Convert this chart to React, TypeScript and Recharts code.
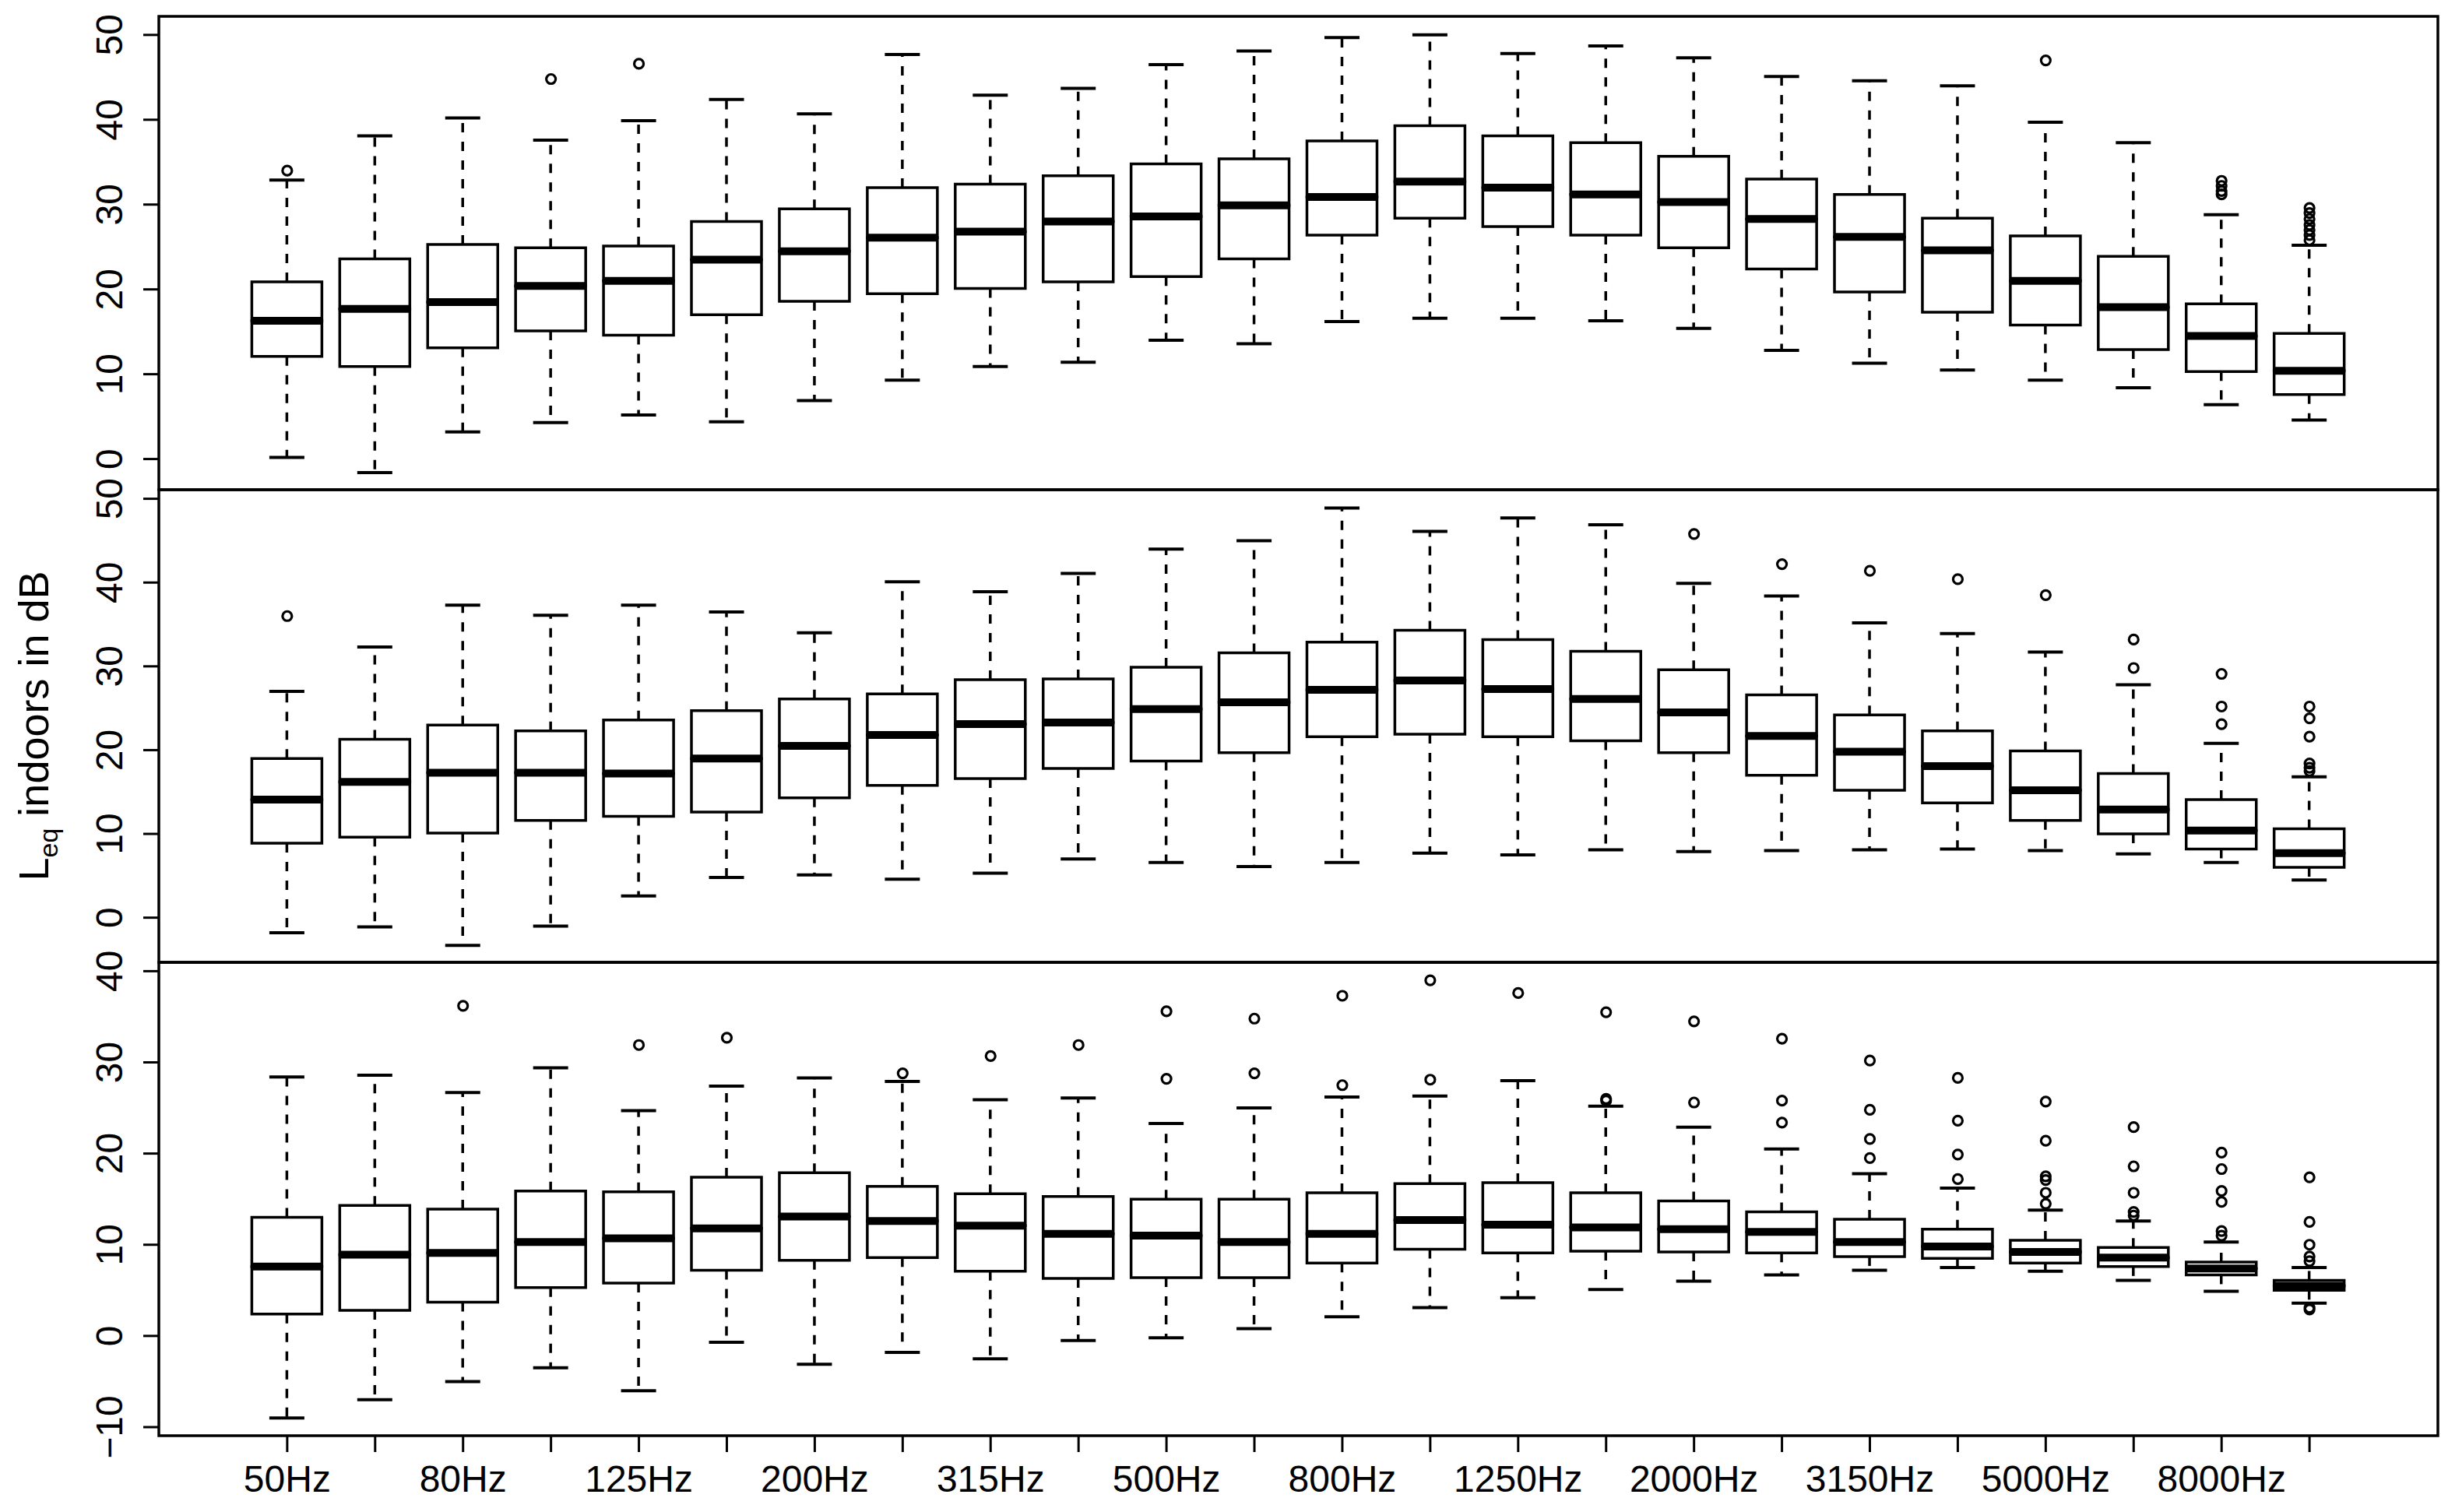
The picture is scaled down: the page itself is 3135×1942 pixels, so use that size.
import { ComposedChart, Bar, Scatter, XAxis, YAxis, ReferenceArea } from 'recharts'

// third-octave bands, one box per band
const bands = [
  '50Hz', '63Hz', '80Hz', '100Hz', '125Hz', '160Hz', '200Hz', '250Hz', '315Hz', '400Hz', '500Hz', '630Hz',
  '800Hz', '1000Hz', '1250Hz', '1600Hz', '2000Hz', '2500Hz', '3150Hz', '4000Hz', '5000Hz', '6300Hz', '8000Hz', '10000Hz',
]

// top panel
const topLow = [0.2, -1.6, 3.2, 4.3, 5.2, 4.4, 6.9, 9.3, 10.9, 11.4, 14.0, 13.6, 16.2, 16.6, 16.6, 16.3, 15.4, 12.8, 11.3, 10.5, 9.3, 8.4, 6.4, 4.6]
const topQ1 = [12.1, 10.9, 13.1, 15.1, 14.6, 17.0, 18.6, 19.5, 20.1, 20.9, 21.5, 23.6, 26.4, 28.4, 27.4, 26.4, 24.9, 22.4, 19.7, 17.3, 15.8, 12.9, 10.3, 7.6]
const topMed = [16.3, 17.7, 18.5, 20.4, 21.0, 23.5, 24.5, 26.1, 26.8, 28.0, 28.6, 29.9, 30.9, 32.7, 32.0, 31.2, 30.3, 28.3, 26.2, 24.6, 21.0, 17.9, 14.5, 10.4]
const topQ3 = [20.9, 23.6, 25.3, 24.9, 25.1, 28.0, 29.5, 32.0, 32.4, 33.4, 34.8, 35.4, 37.5, 39.3, 38.1, 37.3, 35.7, 33.0, 31.2, 28.4, 26.3, 23.9, 18.3, 14.8]
const topHigh = [32.9, 38.1, 40.2, 37.6, 39.9, 42.4, 40.7, 47.7, 42.9, 43.7, 46.5, 48.1, 49.7, 50.0, 47.8, 48.7, 47.3, 45.1, 44.6, 44.0, 39.7, 37.3, 28.8, 25.2]
const topOut = [
  [1, 34.0], [4, 44.8], [5, 46.6], [21, 47.0], [23, 32.8], [23, 32.2], [23, 31.6], [23, 31.2],
  [24, 29.6], [24, 29.0], [24, 28.3], [24, 27.6], [24, 27.0], [24, 26.4], [24, 25.8],
]

// middle panel
const midLow = [-1.8, -1.1, -3.3, -1.0, 2.6, 4.8, 5.1, 4.6, 5.3, 7.0, 6.6, 6.1, 6.6, 7.7, 7.5, 8.1, 7.9, 8.0, 8.1, 8.2, 8.0, 7.6, 6.6, 4.5]
const midQ1 = [8.9, 9.6, 10.1, 11.6, 12.1, 12.6, 14.3, 15.8, 16.6, 17.8, 18.7, 19.7, 21.6, 21.9, 21.6, 21.1, 19.7, 17.0, 15.2, 13.7, 11.6, 10.0, 8.2, 6.0]
const midMed = [14.1, 16.2, 17.3, 17.3, 17.2, 19.0, 20.5, 21.8, 23.1, 23.3, 24.9, 25.7, 27.2, 28.3, 27.3, 26.1, 24.5, 21.7, 19.8, 18.1, 15.2, 12.9, 10.4, 7.7]
const midQ3 = [19.0, 21.3, 23.0, 22.3, 23.6, 24.7, 26.1, 26.7, 28.4, 28.5, 29.9, 31.6, 32.9, 34.3, 33.2, 31.8, 29.6, 26.6, 24.2, 22.3, 19.9, 17.2, 14.1, 10.6]
const midHigh = [27.0, 32.3, 37.3, 36.1, 37.3, 36.5, 34.0, 40.1, 38.9, 41.1, 44.0, 45.0, 48.9, 46.1, 47.7, 46.9, 39.9, 38.4, 35.2, 33.9, 31.7, 27.8, 20.8, 16.8]
const midOut = [
  [1, 36.0], [17, 45.8], [18, 42.2], [19, 41.4], [20, 40.4], [21, 38.5], [22, 33.2], [22, 29.8],
  [23, 29.1], [23, 25.2], [23, 23.1], [24, 25.2], [24, 23.8], [24, 21.6], [24, 18.4], [24, 17.9], [24, 17.5],
]

// bottom panel
const botLow = [-9.0, -7.0, -5.0, -3.5, -6.0, -0.7, -3.1, -1.8, -2.5, -0.5, -0.2, 0.8, 2.1, 3.1, 4.2, 5.1, 6.0, 6.7, 7.2, 7.5, 7.1, 6.1, 4.9, 3.6]
const botQ1 = [2.4, 2.8, 3.7, 5.3, 5.8, 7.2, 8.3, 8.6, 7.1, 6.3, 6.4, 6.4, 8.0, 9.5, 9.1, 9.3, 9.2, 9.1, 8.7, 8.5, 8.0, 7.6, 6.7, 5.0]
const botMed = [7.6, 8.9, 9.1, 10.3, 10.7, 11.8, 13.1, 12.6, 12.1, 11.2, 11.0, 10.3, 11.2, 12.7, 12.2, 11.9, 11.7, 11.4, 10.3, 9.8, 9.2, 8.6, 7.4, 5.5]
const botQ3 = [13.0, 14.3, 13.9, 15.9, 15.8, 17.4, 17.9, 16.4, 15.6, 15.3, 15.0, 15.0, 15.7, 16.7, 16.8, 15.7, 14.8, 13.6, 12.8, 11.7, 10.5, 9.7, 8.1, 6.1]
const botHigh = [28.4, 28.6, 26.7, 29.4, 24.7, 27.4, 28.3, 27.9, 25.9, 26.1, 23.3, 25.0, 26.2, 26.3, 28.0, 25.2, 22.9, 20.5, 17.8, 16.2, 13.8, 12.6, 10.3, 7.5]
const botOut = [
  [3, 36.2], [5, 31.9], [6, 32.7], [8, 28.8], [9, 30.7], [10, 31.9], [11, 35.6], [11, 28.2], [12, 34.8], [12, 28.8],
  [13, 37.3], [13, 27.5], [14, 39.0], [14, 28.1], [15, 37.6], [16, 35.5], [16, 26.0], [16, 25.8], [17, 34.5], [17, 25.6],
  [18, 32.6], [18, 25.8], [18, 23.4], [19, 30.2], [19, 24.8], [19, 21.6], [19, 19.5], [20, 28.3], [20, 23.6], [20, 19.9],
  [20, 17.2], [21, 25.7], [21, 21.4], [21, 17.5], [21, 17.1], [21, 15.7], [21, 14.5], [22, 22.9], [22, 18.6], [22, 15.7],
  [22, 13.6], [22, 13.2], [23, 20.1], [23, 18.3], [23, 15.9], [23, 14.7], [23, 11.5], [23, 11.0], [24, 17.4], [24, 12.5],
  [24, 10.0], [24, 8.7], [24, 8.2], [24, 3.1], [24, 2.9],
]

const W = 3135
const H = 1942
const FONT = '"Liberation Sans", Arial, Helvetica, sans-serif'
const INK = '#000'
const LW = 3.5
const X_DOMAIN: [number, number] = [-0.46, 25.46]
const positions = bands.map((_, i) => i + 1)

const buildRows = (low: number[], q1: number[], med: number[], q3: number[], high: number[]) =>
  bands.map((name, i) => ({
    pos: i + 1,
    name,
    base: low[i],
    lw: q1[i] - low[i],
    lb: med[i] - q1[i],
    ub: q3[i] - med[i],
    uw: high[i] - q3[i],
  }))

const buildOutliers = (list: number[][]) => list.map(([pos, v]) => ({ pos, v }))

const fmtY = (v: number) => (v < 0 ? `\u2212${-v}` : `${v}`)

const Empty = () => <g />

const LowerWhisker = ({ x, y, width, height }: any) => {
  const cx = x + width / 2
  const cap = width / 4
  return (
    <g>
      <line x1={cx} x2={cx} y1={y} y2={y + height} stroke={INK} strokeWidth={LW} strokeDasharray="12 12" />
      <line x1={cx - cap} x2={cx + cap} y1={y + height} y2={y + height} stroke={INK} strokeWidth={4} />
    </g>
  )
}

const UpperWhisker = ({ x, y, width, height }: any) => {
  const cx = x + width / 2
  const cap = width / 4
  return (
    <g>
      <line x1={cx} x2={cx} y1={y + height} y2={y} stroke={INK} strokeWidth={LW} strokeDasharray="12 12" />
      <line x1={cx - cap} x2={cx + cap} y1={y} y2={y} stroke={INK} strokeWidth={4} />
    </g>
  )
}

const LowerBox = ({ x, y, width, height }: any) => (
  <path
    d={`M${x},${y} L${x},${y + height} L${x + width},${y + height} L${x + width},${y}`}
    fill="none"
    stroke={INK}
    strokeWidth={LW}
    strokeLinecap="square"
  />
)

const UpperBox = ({ x, y, width, height }: any) => (
  <g>
    <path
      d={`M${x},${y + height} L${x},${y} L${x + width},${y} L${x + width},${y + height}`}
      fill="none"
      stroke={INK}
      strokeWidth={LW}
      strokeLinecap="square"
    />
    <line x1={x} x2={x + width} y1={y + height} y2={y + height} stroke={INK} strokeWidth={10} />
  </g>
)

const Ring = ({ cx, cy }: any) => <circle cx={cx} cy={cy} r={6} fill="none" stroke={INK} strokeWidth={3.2} />

const YTick = ({ x, y, payload }: any) => (
  <text
    x={x - 27}
    y={y}
    transform={`rotate(-90, ${x - 27}, ${y})`}
    textAnchor="middle"
    fontSize={48}
    fontFamily={FONT}
    fill={INK}
  >
    {fmtY(payload.value)}
  </text>
)

const XTick = ({ x, y, payload }: any) =>
  payload.value % 2 === 1 ? (
    <text x={x} y={y + 51} textAnchor="middle" fontSize={48} fontFamily={FONT} fill={INK}>
      {bands[payload.value - 1]}
    </text>
  ) : (
    <g />
  )

const YTitle = () => {
  const tx = 62
  const ty = (629 + 1236) / 2
  return (
    <text x={tx} y={ty} transform={`rotate(-90, ${tx}, ${ty})`} textAnchor="middle" fontSize={54} fontFamily={FONT} fill={INK}>
      L
      <tspan fontSize={34} dy={12}>eq</tspan>
      <tspan dy={-12}> indoors in dB</tspan>
    </text>
  )
}

interface PanelProps {
  low: number[]
  q1: number[]
  med: number[]
  q3: number[]
  high: number[]
  out: number[][]
  domain: [number, number]
  ticks: number[]
  plotTop: number
  plotBottom: number
  showX?: boolean
  title?: boolean
}

function Panel({ low, q1, med, q3, high, out, domain, ticks, plotTop, plotBottom, showX, title }: PanelProps) {
  const rows = buildRows(low, q1, med, q3, high)
  const outliers = buildOutliers(out)
  const xHeight = 60
  const bottom = showX ? H - plotBottom - xHeight : H - plotBottom
  return (
    <div style={{ position: 'absolute', left: 0, top: 0 }}>
      <ComposedChart width={W} height={H} data={rows} margin={{ top: plotTop, right: 4, bottom, left: 124 }}>
        <XAxis
          type="number"
          dataKey="pos"
          domain={X_DOMAIN}
          ticks={positions}
          allowDataOverflow
          hide={!showX}
          height={xHeight}
          axisLine={false}
          tickSize={21}
          tickMargin={0}
          tickLine={{ stroke: INK, strokeWidth: 3 }}
          tick={<XTick />}
          interval={0}
        />
        <YAxis
          type="number"
          domain={domain}
          ticks={ticks}
          allowDataOverflow
          width={80}
          axisLine={false}
          tickSize={20}
          tickMargin={0}
          tickLine={{ stroke: INK, strokeWidth: 3 }}
          tick={<YTick />}
          interval={0}
          label={title ? <YTitle /> : undefined}
        />
        <ReferenceArea
          x1={X_DOMAIN[0]}
          x2={X_DOMAIN[1]}
          y1={domain[0]}
          y2={domain[1]}
          ifOverflow="visible"
          fill="none"
          fillOpacity={0}
          stroke={INK}
          strokeWidth={3.5}
        />
        <Bar dataKey="base" stackId="box" barSize={90} shape={<Empty />} isAnimationActive={false} />
        <Bar dataKey="lw" stackId="box" barSize={90} shape={<LowerWhisker />} isAnimationActive={false} />
        <Bar dataKey="lb" stackId="box" barSize={90} shape={<LowerBox />} isAnimationActive={false} />
        <Bar dataKey="ub" stackId="box" barSize={90} shape={<UpperBox />} isAnimationActive={false} />
        <Bar dataKey="uw" stackId="box" barSize={90} shape={<UpperWhisker />} isAnimationActive={false} />
        <Scatter data={outliers} dataKey="v" shape={<Ring />} isAnimationActive={false} />
      </ComposedChart>
    </div>
  )
}

export default function App() {
  return (
    <div style={{ position: 'absolute', left: 0, top: 0, width: W, height: H, background: '#fff', overflow: 'hidden' }}>
      <Panel
        low={topLow} q1={topQ1} med={topMed} q3={topQ3} high={topHigh} out={topOut}
        domain={[-3.62, 52.19]} ticks={[0, 10, 20, 30, 40, 50]} plotTop={21} plotBottom={629}
      />
      <Panel
        low={midLow} q1={midQ1} med={midMed} q3={midQ3} high={midHigh} out={midOut}
        domain={[-5.33, 51.08]} ticks={[0, 10, 20, 30, 40, 50]} plotTop={629} plotBottom={1236} title
      />
      <Panel
        low={botLow} q1={botQ1} med={botMed} q3={botQ3} high={botHigh} out={botOut}
        domain={[-10.94, 40.97]} ticks={[-10, 0, 10, 20, 30, 40]} plotTop={1236} plotBottom={1844} showX
      />
    </div>
  )
}
